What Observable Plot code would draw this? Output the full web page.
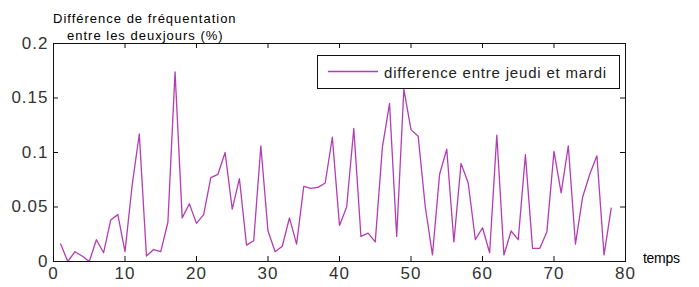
<!DOCTYPE html>
<html>
<head>
<meta charset="utf-8">
<script src="https://cdn.jsdelivr.net/npm/d3@7"></script>
<script src="https://cdn.jsdelivr.net/npm/@observablehq/plot@0.6"></script>
<style>
  html, body { margin: 0; padding: 0; background: #fff; }
  #chart svg { display: block; }
</style>
</head>
<body>
<div id="chart"></div>
<script>
// ---- data ----
const temps = [1,2,3,4,5,6,7,8,9,10,11,12,13,14,15,16,17,18,19,20,
  21,22,23,24,25,26,27,28,29,30,31,32,33,34,35,36,37,38,39,40,
  41,42,43,44,45,46,47,48,49,50,51,52,53,54,55,56,57,58,59,60,
  61,62,63,64,65,66,67,68,69,70,71,72,73,74,75,76,77,78];
const difference = [0.016,0.0,0.009,0.005,0.0,0.02,0.008,0.038,0.043,0.009,
  0.07,0.117,0.005,0.011,0.009,0.036,0.174,0.04,0.053,0.035,
  0.043,0.077,0.08,0.1,0.048,0.076,0.015,0.019,0.106,0.028,
  0.009,0.014,0.04,0.016,0.069,0.067,0.068,0.072,0.114,0.033,
  0.05,0.122,0.023,0.026,0.018,0.105,0.145,0.023,0.158,0.121,
  0.115,0.05,0.006,0.08,0.103,0.018,0.09,0.072,0.02,0.031,
  0.008,0.116,0.006,0.028,0.02,0.098,0.012,0.012,0.027,0.101,
  0.063,0.106,0.016,0.059,0.08,0.097,0.006,0.049];
const xTicks = [0,10,20,30,40,50,60,70,80];
const yTicks = [0,0.05,0.1,0.15,0.2];
const yLabelLines = ["Différence de fréquentation", "entre les deuxjours (%)"];
const xLabel = "temps";
const seriesName = "difference entre jeudi et mardi";

const data = temps.map((t, i) => ({t, v: difference[i]}));

const W = 699, H = 287;
const mL = 53, mR = 74, mT = 43, mB = 26;
const fw = W - mL - mR, fh = H - mT - mB;
const TL = 5;
const lineColor = "#b43cb4";
const font = "'Liberation Sans', Arial, sans-serif";

const plot = Plot.plot({
  width: W, height: H,
  marginLeft: mL, marginRight: mR, marginTop: mT, marginBottom: mB,
  style: {background: "#fff", color: "#000", overflow: "visible"},
  x: {domain: [0, 80], ticks: xTicks},
  y: {domain: [0, 0.2], ticks: yTicks},
  marks: [
    Plot.line(data, {x: "t", y: "v", stroke: lineColor, strokeWidth: 1.3}),
    Plot.frame({stroke: "#111", strokeWidth: 1}),
    // inward ticks on all four sides
    Plot.tickX(xTicks, {x: d => d, insetTop: fh - TL, stroke: "#111"}),
    Plot.tickX(xTicks, {x: d => d, insetBottom: fh - TL, stroke: "#111"}),
    Plot.tickY(yTicks, {y: d => d, insetRight: fw - TL, stroke: "#111"}),
    Plot.tickY(yTicks, {y: d => d, insetLeft: fw - TL, stroke: "#111"}),
    Plot.axisX(xTicks, {tickSize: 0, tickPadding: 5, label: null, tickFormat: d => String(d),
      fontSize: 17, fontFamily: font, fill: "#333"}),
    Plot.axisY(yTicks, {tickSize: 0, tickPadding: 5, label: null, tickFormat: d => String(d),
      fontSize: 17, fontFamily: font, fill: "#333"})
  ]
});

document.getElementById("chart").appendChild(plot);

const svg = d3.select(plot);
svg.selectAll("g[aria-label='x-axis tick label'] text, g[aria-label='y-axis tick label'] text")
  .style("letter-spacing", "1px");

function addText(x, y, size, spacing, fill, str) {
  return svg.append("text").attr("x", x).attr("y", y)
    .attr("text-anchor", "start")
    .attr("font-family", font).attr("font-size", size)
    .style("letter-spacing", spacing).attr("fill", fill).text(str);
}

// y-axis label (two lines above the frame)
addText(53, 23, 13, "1px", "#000", yLabelLines[0]);
addText(67, 40, 13, "1px", "#000", yLabelLines[1]);

// x-axis label
addText(643, 263, 14, "-0.3px", "#000", xLabel);

// legend
const lg = svg.append("g");
lg.append("rect").attr("x", 317.5).attr("y", 55.5).attr("width", 302).attr("height", 33)
  .attr("fill", "#fff").attr("stroke", "#111");
lg.append("line").attr("x1", 328).attr("x2", 378).attr("y1", 71.5).attr("y2", 71.5)
  .attr("stroke", lineColor).attr("stroke-width", 1.3);
addText(384, 77.5, 15, "0.8px", "#222", seriesName);
</script>
</body>
</html>
